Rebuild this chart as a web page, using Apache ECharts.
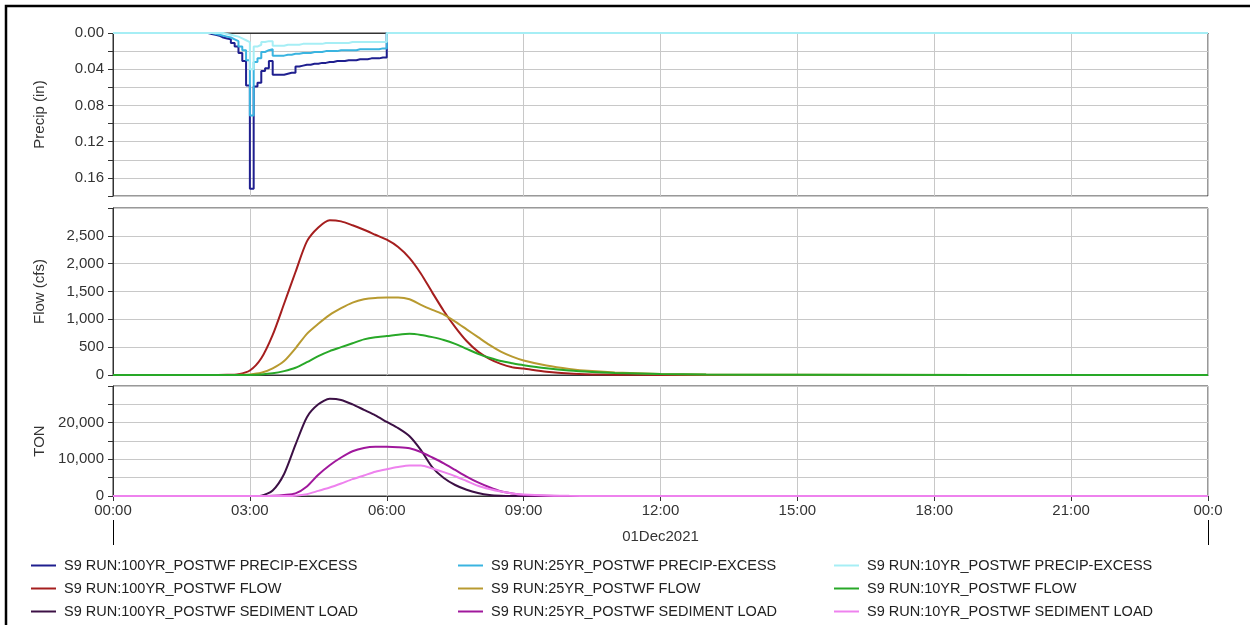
<!DOCTYPE html>
<html><head><meta charset="utf-8">
<script src="https://cdn.jsdelivr.net/npm/echarts@6/dist/echarts.min.js"></script>
<style>html,body{margin:0;padding:0;background:#fff}#c{width:1250px;height:625px}</style>
</head><body><div id="c"></div>
<script>
// ---------- DATA ----------
// Precip-excess: interval-ending times (minutes after 00:00), 5-minute steps
const precipMinutes = [0,
  125,130,135,140,145,150,155,160,165,170,175,
  180,185,190,195,200,205,210,215,220,225,230,235,
  240,245,250,255,260,265,270,275,280,285,290,295,
  300,305,310,315,320,325,330,335,340,345,350,355,
  360, 365, 1440];
const precip100 = [0,
  0,0.001,0.002,0.003,0.005,0.006,0.007,0.011,0.015,0.022,0.031,
  0.058,0.172,0.059,0.055,0.042,0.039,0.031,0.046,0.046,0.046,0.045,0.044,
  0.044,0.037,0.036,0.035,0.035,0.034,0.034,0.033,0.033,0.032,0.032,0.031,
  0.031,0.031,0.030,0.030,0.030,0.029,0.029,0.029,0.028,0.028,0.028,0.027,
  0.027, 0, 0];
const precip25 = [0,
  0,0,0.001,0.002,0.003,0.004,0.005,0.007,0.009,0.015,0.019,
  0.030,0.091,0.032,0.028,0.021,0.019,0.018,0.025,0.025,0.025,0.024,0.024,
  0.023,0.023,0.022,0.022,0.022,0.021,0.021,0.021,0.020,0.020,0.020,0.020,
  0.019,0.019,0.019,0.019,0.019,0.018,0.018,0.018,0.018,0.018,0.018,0.017,
  0.017, 0, 0];
const precip10 = [0,
  0,0,0,0,0,0.001,0.002,0.003,0.004,0.006,0.008,
  0.010,0.040,0.015,0.013,0.010,0.009,0.009,0.014,0.014,0.014,0.013,0.013,
  0.013,0.013,0.012,0.012,0.012,0.012,0.012,0.012,0.011,0.011,0.011,0.011,
  0.011,0.011,0.011,0.010,0.010,0.010,0.010,0.010,0.010,0.010,0.010,0.010,
  0.010, 0, 0];

// Flow & sediment: times in hours
const flowHours = [0,2,2.5,2.75,3,3.25,3.5,3.75,4,4.25,4.5,4.75,5,5.25,5.5,5.75,6,6.25,6.5,6.75,7,7.25,7.5,7.75,8,8.25,8.5,8.75,9,9.5,10,10.5,11,12,13,15,24];
const flow100 = [0,0,3,15,80,300,720,1280,1850,2400,2650,2780,2760,2690,2610,2520,2430,2300,2100,1820,1480,1150,860,610,420,290,200,140,115,60,25,10,5,2,1,0,0];
const flow25  = [0,0,0,2,10,40,120,250,480,740,920,1080,1200,1300,1360,1385,1390,1390,1360,1260,1170,1085,960,820,680,540,420,330,260,170,110,70,45,20,10,3,0];
const flow10  = [0,0,0,0,2,10,30,70,130,230,340,430,500,570,640,680,700,725,740,720,680,630,560,470,380,310,250,210,175,120,80,55,38,20,10,4,0];

const sed100 = [0,0,0,0,0,100,1500,6000,14000,21500,25000,26500,26200,25000,23500,22000,20200,18500,16300,12500,7800,4900,3000,1700,800,250,50,0,0,0,0,0,0,0,0,0,0];
const sed25  = [0,0,0,0,0,20,100,300,700,2600,5800,8400,10500,12200,13100,13400,13400,13300,13000,12000,10500,8900,7100,5300,3700,2400,1300,700,300,80,20,5,0,0,0,0,0];
const sed10  = [0,0,0,0,0,0,0,20,100,500,1400,2300,3400,4600,5600,6600,7300,7900,8300,8300,7500,6500,5400,4100,2800,1900,1200,700,400,120,40,10,0,0,0,0,0];

const xTickLabels = ['00:00','03:00','06:00','09:00','12:00','15:00','18:00','21:00','00:0'];
const dateLabel = '01Dec2021';

const names = {
  p100:'S9 RUN:100YR_POSTWF PRECIP-EXCESS', p25:'S9 RUN:25YR_POSTWF PRECIP-EXCESS', p10:'S9 RUN:10YR_POSTWF PRECIP-EXCESS',
  f100:'S9 RUN:100YR_POSTWF FLOW', f25:'S9 RUN:25YR_POSTWF FLOW', f10:'S9 RUN:10YR_POSTWF FLOW',
  s100:'S9 RUN:100YR_POSTWF SEDIMENT LOAD', s25:'S9 RUN:25YR_POSTWF SEDIMENT LOAD', s10:'S9 RUN:10YR_POSTWF SEDIMENT LOAD'
};
const colors = {
  p100:'#1f1f8f', p25:'#3ab4e0', p10:'#a6eef5',
  f100:'#a51e1e', f25:'#b89a30', f10:'#28a828',
  s100:'#3c1045', s25:'#a0189c', s10:'#ee82ee'
};

// ---------- BUILD ----------
const zip = (xs, ys, k) => xs.map((x, i) => [x * k, ys[i]]);
const fmtNum = v => Math.round(v).toLocaleString('en-US');
const gridCol = '#c8c8c8';
const axisCol = '#333';
const labelStyle = {color:'#333', fontSize:15, fontFamily:'Liberation Sans, Arial, sans-serif'};

const grids = [
  {left:113, right:42, top:33, height:163},
  {left:113, right:42, top:208, height:167},
  {left:113, right:42, top:386, height:110}
].map(g => Object.assign(g, {show:true, borderColor:'#333', borderWidth:1, backgroundColor:'#fff'}));

function xAx(i, showLabels){
  return {
    type:'value', gridIndex:i, min:0, max:24, interval:3,
    axisLine:{show:true, lineStyle:{color:axisCol}},
    axisTick:{show:showLabels, length:5, lineStyle:{color:axisCol}},
    axisLabel:{show:showLabels, margin:7, ...labelStyle, formatter: v => xTickLabels[Math.round(v/3)]},
    splitLine:{show:true, lineStyle:{color:gridCol, width:1}},
    name: showLabels ? dateLabel : '', nameLocation:'middle', nameGap:33,
    nameTextStyle: labelStyle
  };
}
function yAx(i, o){
  return Object.assign({
    type:'value', gridIndex:i,
    axisLine:{show:true, lineStyle:{color:axisCol}},
    axisTick:{show:true, length:5, lineStyle:{color:axisCol}},
    splitLine:{show:true, lineStyle:{color:gridCol, width:1}},
    nameLocation:'middle', nameGap:66, nameTextStyle: labelStyle
  }, o);
}

const xAxes = [xAx(0,false), xAx(1,false), xAx(2,true),
  {type:'value', gridIndex:2, min:0, max:24, interval:24, position:'bottom', offset:24,
   axisLine:{show:false}, axisLabel:{show:false}, splitLine:{show:false},
   axisTick:{show:true, length:25, lineStyle:{color:'#000', width:1}}}];

const yAxes = [
  yAx(0, {inverse:true, min:0, max:0.18, interval:0.02, name:'Precip (in)',
    axisLabel:{...labelStyle, margin:9, formatter: v => { const k = Math.round(v*100); return (k % 4 === 0 && k < 18) ? v.toFixed(2) : ''; }}}),
  yAx(1, {min:0, max:3000, interval:500, name:'Flow (cfs)',
    axisLabel:{...labelStyle, margin:9, formatter: v => v >= 3000 ? '' : fmtNum(v)}}),
  yAx(2, {min:0, max:30000, interval:5000, name:'TON',
    axisLabel:{...labelStyle, margin:9, formatter: v => (v % 10000 === 0 && v < 30000) ? fmtNum(v) : ''}})
];

function line(key, data, axis, extra){
  return Object.assign({
    name:names[key], type:'line', xAxisIndex:axis, yAxisIndex:axis, data,
    showSymbol:false, symbol:'none', animation:false,
    lineStyle:{color:colors[key], width:2}, itemStyle:{color:colors[key]}
  }, extra || {});
}

const smooth = {smooth:0.25};
const series = [
  line('p100', zip(precipMinutes, precip100, 1/60), 0, {step:'start'}),
  line('p25',  zip(precipMinutes, precip25, 1/60), 0, {step:'start'}),
  line('p10',  zip(precipMinutes, precip10, 1/60), 0, {step:'start'}),
  line('f100', zip(flowHours, flow100, 1), 1, smooth),
  line('f25',  zip(flowHours, flow25, 1), 1, smooth),
  line('f10',  zip(flowHours, flow10, 1), 1, smooth),
  line('s100', zip(flowHours, sed100, 1), 2, smooth),
  line('s25',  zip(flowHours, sed25, 1), 2, smooth),
  line('s10',  zip(flowHours, sed10, 1), 2, smooth)
];

const legendBase = {orient:'vertical', top:558, height:90, padding:0, itemGap:8, itemWidth:25, itemHeight:2, icon:'rect',
  textStyle:{color:'#222', fontSize:14.5, fontFamily:'Liberation Sans, Arial, sans-serif', padding:[0,0,0,3]}, selectedMode:false};
const legends = [
  {...legendBase, left:31, data:[names.p100, names.f100, names.s100]},
  {...legendBase, left:458, data:[names.p25, names.f25, names.s25]},
  {...legendBase, left:834, data:[names.p10, names.f10, names.s10]}
];

const chart = echarts.init(document.getElementById('c'), null, {renderer:'canvas'});
chart.setOption({
  backgroundColor:'#fff',
  animation:false,
  grid: grids,
  xAxis: xAxes,
  yAxis: yAxes,
  legend: legends,
  series,
  graphic:[{type:'rect', shape:{x:6, y:6, width:1400, height:900}, style:{fill:'none', stroke:'#000', lineWidth:2.5}, silent:true, z:100}]
});
</script></body></html>
